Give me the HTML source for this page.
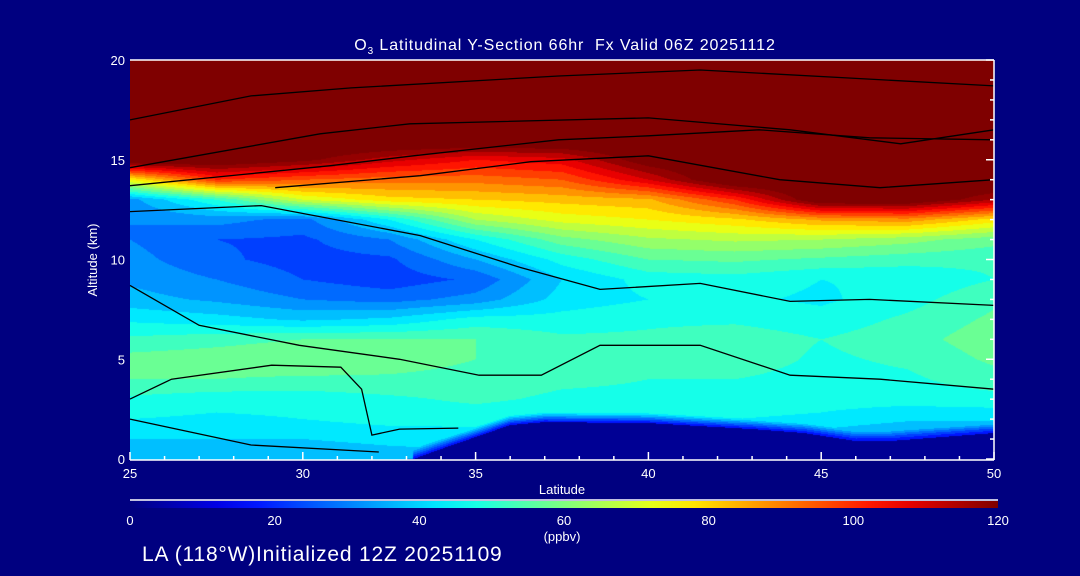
<!DOCTYPE html>
<html><head><meta charset="utf-8">
<style>
html,body{margin:0;padding:0;background:#000080;}
#wrap{position:relative;width:1080px;height:576px;background:#000080;overflow:hidden;font-family:"Liberation Sans",sans-serif;color:#fff;}
canvas{position:absolute;left:130px;top:60px;}
svg{position:absolute;left:0;top:0;}
</style></head>
<body>
<div id="wrap">
<canvas id="fill" width="864" height="400"></canvas>
<svg id="ov" width="1080" height="576">
  <defs><linearGradient id="jet" x1="0" x2="1" y1="0" y2="0"></linearGradient></defs>
  <g id="contours"></g>
  <text x="565" y="50" font-size="16" letter-spacing="0.9" text-anchor="middle" fill="#fff" xml:space="preserve">O<tspan font-size="10" dy="4">3</tspan><tspan dy="-4"> Latitudinal Y-Section 66hr  Fx Valid 06Z 20251112</tspan></text>
  <text x="97" y="260" font-size="13" fill="#fff" text-anchor="middle" transform="rotate(-90 97 260)">Altitude (km)</text>
  <text x="562" y="494" font-size="13" fill="#fff" text-anchor="middle">Latitude</text>
  <line x1="130" y1="500" x2="998" y2="500" stroke="#fff" stroke-width="1.5"/>
  <rect x="130" y="501" width="868" height="7" fill="url(#jet)"/>
  <text x="562" y="541" font-size="13" fill="#fff" text-anchor="middle">(ppbv)</text>
  <text x="142" y="561" font-size="21" letter-spacing="0.8" fill="#fff">LA (118°W)Initialized 12Z 20251109</text>
  <g id="axes"></g>
</svg>
</div>
<script>
// ---- data ----
const lats = [25,27.5,30,32.5,35,37.5,40,42.5,45,47.5,50];
const alts = [0,1,2,3,4,5,6,7,8,9,10,11,12,13,14,15,16,17,18,19,20];
const o3_0  = [37,37,37,38,38,35,33,33,30,28,28];
const o3_1  = [40,40,40,41,42,40,38,38,36,32,32];
const o3_2  = [45,44,45,47,47,46,45,45,44,41,41];
const o3_3  = [49,47,47,49,51,49,49,48,47,47,48];
const o3_4  = [55,55,54,54,53,51,50,50,48,49,53];
const o3_5  = [57,58,60,58,55,53,51,53,49,51,56];
const o3_6  = [51,53,55,55,55,51,51,53,50,53,58];
const o3_7  = [44,42,39,41,47,47,49,49,47,51,56];
const o3_8  = [37,34,30,28,32,42,45,46,44,48,54];
const o3_9  = [34,30,25,22,26,40,47,48,45,46,50];
const o3_10 = [32,26,23,24,35,47,55,56,54,52,51];
const o3_11 = [30,25,24,30,45,58,64,66,65,62,57];
const o3_12 = [30,32,28,45,65,72,75,79,86,88,78];
const o3_13 = [33,50,70,78,80,82,84,100,128,128,115];
const o3_14 = [75,100,95,92,92,95,110,130,130,130,130];
const o3_15 = [130,128,122,112,105,108,125,130,130,130,130];
const o3_16 = [130,130,130,130,130,130,130,130,130,130,130];
const o3_17 = [130,130,130,130,130,130,130,130,130,130,130];
const o3_18 = [130,130,130,130,130,130,130,130,130,130,130];
const o3_19 = [130,130,130,130,130,130,130,130,130,130,130];
const o3_20 = [130,130,130,130,130,130,130,130,130,130,130];
const terrainLats = [25,33.2,34,35,36,37,40,43,44.5,46,47,50];
const terrainKm   = [-1,0,0.5,1.1,1.7,1.85,1.8,1.5,1.3,0.9,0.9,1.3];
const xTicks = [25,30,35,40,45,50];
const yTicks = [0,5,10,15,20];
const cbTicks = [0,20,40,60,80,100,120];
// contour lines (lat, alt km)
const c1Lat=[25,28.5,31.4,37.4,41.5,45.8,50], c1Alt=[17.0,18.2,18.6,19.2,19.5,19.1,18.7];
const c2Lat=[25,30.5,33.1,40,44.1,47.3,50], c2Alt=[14.6,16.3,16.8,17.1,16.5,15.8,16.5];
const c3Lat=[25,30.8,33.2,37.4,40,43.2,46.4,50], c3Alt=[13.7,14.7,15.2,16.0,16.2,16.5,16.1,16.0];
const c4Lat=[29.2,33.4,36.6,40,43.8,46.7,50], c4Alt=[13.6,14.2,14.9,15.2,14.0,13.6,14.0];
const c5Lat=[25,28.8,33.4,36.3,38.6,41.5,44.1,46.4,50], c5Alt=[12.4,12.7,11.2,9.6,8.5,8.8,7.9,8.0,7.7];
const c6Lat=[25,27,29.9,32.8,35.1,36.9,38.6,41.5,44.1,46.7,50], c6Alt=[8.7,6.7,5.7,5.0,4.2,4.2,5.7,5.7,4.2,4.0,3.5];
const c7Lat=[25,28.5,32.2], c7Alt=[2.0,0.7,0.35];
const c8Lat=[25,26.2,29.1,31.1,31.7,32.0,32.8,34.5], c8Alt=[3.0,4.0,4.7,4.6,3.5,1.2,1.5,1.55];

const grid=[o3_0,o3_1,o3_2,o3_3,o3_4,o3_5,o3_6,o3_7,o3_8,o3_9,o3_10,o3_11,o3_12,o3_13,o3_14,o3_15,o3_16,o3_17,o3_18,o3_19,o3_20];
// ---- axes ----
const X0=130,X1=994,Y0=459,Y1=60;
const xs=v=>X0+(v-25)/(50-25)*(X1-X0);
const ys=v=>Y0-(v-0)/20*(Y0-Y1);
function jet(t){t=Math.max(0,Math.min(1,t));const c=x=>Math.max(0,Math.min(1,1.5-Math.abs(4*t-x)));return [c(3)*255|0,c(2)*255|0,c(1)*255|0];}
function interp1(xa,ya,x){if(x<=xa[0])return ya[0];for(let i=1;i<xa.length;i++){if(x<=xa[i]){const f=(x-xa[i-1])/(xa[i]-xa[i-1]);return ya[i-1]+f*(ya[i]-ya[i-1]);}}return ya[ya.length-1];}
function field(lat,alt){
  let fi=(lat-lats[0])/(lats[1]-lats[0]);let i=Math.min(lats.length-2,Math.max(0,Math.floor(fi)));let fx=fi-i;
  let fj=alt/(alts[1]-alts[0]);let j=Math.min(alts.length-2,Math.max(0,Math.floor(fj)));let fy=fj-j;
  const a=grid[j][i],b=grid[j][i+1],c=grid[j+1][i],d=grid[j+1][i+1];
  return (a*(1-fx)+b*fx)*(1-fy)+(c*(1-fx)+d*fx)*fy;
}
// ---- filled contours ----
const cv=document.getElementById('fill');const ctx=cv.getContext('2d');
const W=cv.width,H=cv.height;const img=ctx.createImageData(W,H);
for(let py=0;py<H;py++){for(let px=0;px<W;px++){
  const lat=25+(px+0.5)/W*25, alt=20-(py+0.5)/(Y0-Y1)*20;
  const ter=interp1(terrainLats,terrainKm,lat);
  let v;
  if(alt<ter) v=0;
  else{v=field(lat,alt);const d=alt-ter;if(d<0.5&&ter>0){const f=d/0.5;v=15+(v-15)*f;}}
  v=Math.floor(v/5)*5+2.5; if(v>120)v=125;
  const col=jet(v/120);const k=(py*W+px)*4;
  img.data[k]=col[0];img.data[k+1]=col[1];img.data[k+2]=col[2];img.data[k+3]=255;
}}
ctx.putImageData(img,0,0);
const NS='http://www.w3.org/2000/svg';
// ---- contour lines ----
const cg=document.getElementById('contours');
[[c1Lat,c1Alt],[c2Lat,c2Alt],[c3Lat,c3Alt],[c4Lat,c4Alt],[c5Lat,c5Alt],[c6Lat,c6Alt],[c7Lat,c7Alt],[c8Lat,c8Alt]].forEach(([la,al])=>{
  const p=document.createElementNS(NS,'polyline');
  p.setAttribute('points',la.map((v,i)=>xs(v).toFixed(1)+','+ys(al[i]).toFixed(1)).join(' '));
  p.setAttribute('fill','none');p.setAttribute('stroke','#000');p.setAttribute('stroke-width','1.3');
  
  
  cg.appendChild(p);
});
// ---- colorbar gradient ----
const grad=document.getElementById('jet');
for(let s=0;s<=20;s++){const c=jet(s/20);const st=document.createElementNS(NS,'stop');st.setAttribute('offset',(s/20));st.setAttribute('stop-color',`rgb(${c[0]},${c[1]},${c[2]})`);grad.appendChild(st);}
// ---- axes drawing ----
const g=document.getElementById('axes');
function ln(x1,y1,x2,y2,name){const l=document.createElementNS(NS,'line');l.setAttribute('x1',x1);l.setAttribute('y1',y1);l.setAttribute('x2',x2);l.setAttribute('y2',y2);l.setAttribute('stroke','#fff');l.setAttribute('stroke-width','1.5');


g.appendChild(l);}
function tx(x,y,s,anchor,size,name){const t=document.createElementNS(NS,'text');t.setAttribute('x',x);t.setAttribute('y',y);t.setAttribute('fill','#fff');t.setAttribute('font-size',size);t.setAttribute('text-anchor',anchor);t.textContent=s;


g.appendChild(t);}
ln(X0,Y0+1,X1,Y0+1,'x-axis-line');
ln(X0,Y1,X1,Y1,'top-axis-line');
ln(X1,Y1,X1,Y0+1,'right-axis-line');
for(let v=25;v<=50;v++){const major=v%5===0;ln(xs(v),Y0+1,xs(v),Y0+1-(major?8:4),'x-tick');}
for(let v=0;v<=20;v++){const major=v%5===0;ln(X1,ys(v),X1-(major?8:4),ys(v),'y-tick-right');}
xTicks.forEach(v=>tx(xs(v),Y0+19,String(v),'middle',13,'x-tick-label'));
yTicks.forEach(v=>tx(X0-5,ys(v)+5,String(v),'end',13,'y-tick-label'));
cbTicks.forEach(v=>tx(130+v/120*868,525,String(v),'middle',13,'colorbar-tick-label'));
</script>
</body></html>
